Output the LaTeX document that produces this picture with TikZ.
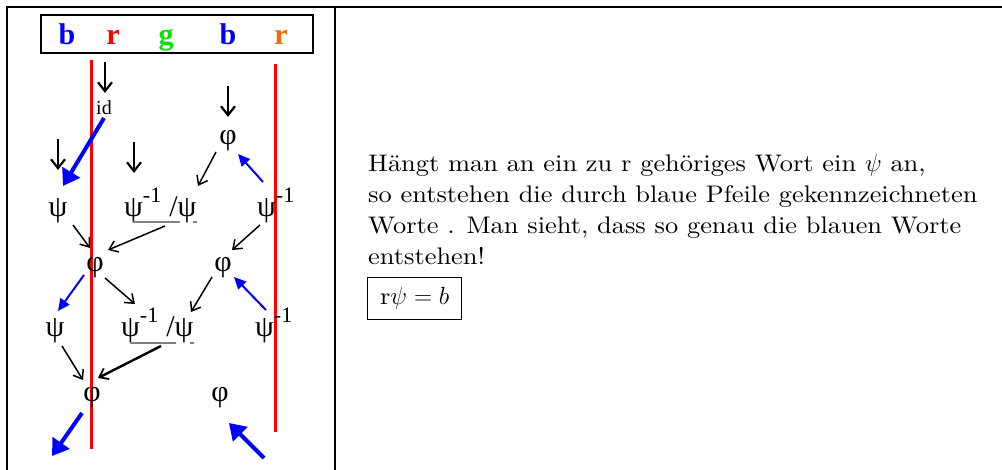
\documentclass[tikz,border=0pt]{standalone}
\usepackage{fontspec}
\setmainfont{lmroman10-regular}[Extension=.otf,BoldFont=lmroman10-bold,ItalicFont=lmroman10-italic,FakeStretch=1.1]
\newfontfamily\tms{Liberation Serif}
\usetikzlibrary{arrows.meta}
\definecolor{orng}{RGB}{255,102,0}
\definecolor{grn}{RGB}{0,230,0}
\newcommand{\supm}{\raisebox{14pt}{\fontsize{22}{22}\selectfont -1}}
\begin{document}
\begin{tikzpicture}[x=1pt,y=-1pt,
  frame/.style={line width=2pt,black},
  redline/.style={line width=3pt,red},
  hdr/.style={font=\tms\bfseries\fontsize{30}{30}\selectfont,inner sep=0,anchor=base},
  sym/.style={font=\tms\fontsize{30}{30}\selectfont,inner sep=0,anchor=base},
  dnarrow/.style={line width=2.6pt,-{Straight Barb[length=9pt,width=14pt,line width=2.2pt]}},
  blkarrow/.style={line width=1.5pt,-{Straight Barb[length=8pt,width=12pt,line width=1.5pt]}},
  blkthick/.style={line width=2.4pt,-{Straight Barb[length=8pt,width=12pt,line width=1.8pt]}},
  bluethick/.style={blue,line width=4pt,-{Triangle[length=16pt,width=20pt]}},
  bluethin/.style={blue,line width=2pt,-{Triangle[length=12pt,width=11pt]}},
  ul/.style={gray,line width=1.2pt},
  txt/.style={font=\fontsize{24}{31}\selectfont,inner sep=0,anchor=base west,align=left}
]
\useasboundingbox (0,0) rectangle (1002,470);
% frame
\draw[frame] (7,471) -- (7,7) -- (1003,7);
\draw[frame] (335,7) -- (335,471);
% header
\draw[frame] (41,15) rectangle (313,53);
\node[hdr,blue] (h1) at (67,45) {b};
\node[hdr,red] (h2) at (113,45) {r};
\node[hdr,grn] (h3) at (166,45) {g};
\node[hdr,blue] (h4) at (228,45) {b};
\node[hdr,orng] (h5) at (281,45) {r};
% red lines
\draw[redline] (91,60) -- (91,449);
\draw[redline] (275,64) -- (275,432);
% top black arrows
\coordinate (a1s) at (105,62); \coordinate (a1e) at (105,93);
\draw[dnarrow] (a1s) -- (a1e);
\coordinate (a2s) at (228,86); \coordinate (a2e) at (228,117);
\draw[dnarrow] (a2s) -- (a2e);
\coordinate (a3s) at (58,139); \coordinate (a3e) at (58,170);
\draw[dnarrow] (a3s) -- (a3e);
\coordinate (a4s) at (134,142); \coordinate (a4e) at (134,173);
\draw[dnarrow] (a4s) -- (a4e);
% id and phi top
\node[font=\tms\fontsize{20}{20}\selectfont,inner sep=0,anchor=base] (id) at (104,115) {id};
\node[sym] (phiT) at (228,145) {φ};
% row 1 psi
\node[sym] (psiA) at (58,217) {ψ};
\node[sym,anchor=base west] (psiB) at (124,217) {ψ\supm\hspace{8pt}/ψ};
\node[sym,anchor=base west] (psiC) at (257,217) {ψ\supm};
\draw[ul] (133,222) -- (180,222);
\draw[ul] (193,222) -- (197,222);
% row phi
\node[sym] (phiA) at (95,272) {φ};
\node[sym] (phiB) at (223,272) {φ};
% row 2 psi
\node[sym] (psiD) at (55,337) {ψ};
\node[sym,anchor=base west] (psiE) at (121,337) {ψ\supm\hspace{8pt}/ψ};
\node[sym,anchor=base west] (psiF) at (255,337) {ψ\supm};
\draw[ul] (130,343) -- (176,343);
\draw[ul] (190,343) -- (194,343);
% bottom phi
\node[sym] (phiC) at (92,402) {φ};
\node[sym] (phiD) at (220,402) {φ};
% connectors
\coordinate (b1s) at (104,118); \coordinate (b1e) at (63,186);
\draw[bluethick] (b1s) -- (b1e);
\coordinate (b2s) at (263,182); \coordinate (b2e) at (238,154);
\draw[bluethin] (b2s) -- (b2e);
\coordinate (k1s) at (216,152); \coordinate (k1e) at (198,186);
\draw[blkarrow] (k1s) -- (k1e);
\coordinate (k2s) at (73,225); \coordinate (k2e) at (90,248);
\draw[blkarrow] (k2s) -- (k2e);
\coordinate (k3s) at (165,226); \coordinate (k3e) at (108,250);
\draw[blkarrow] (k3s) -- (k3e);
\coordinate (k4s) at (260,225); \coordinate (k4e) at (232,250);
\draw[blkarrow] (k4s) -- (k4e);
\coordinate (b3s) at (84,275); \coordinate (b3e) at (58,311);
\draw[bluethin] (b3s) -- (b3e);
\coordinate (k5s) at (105,278); \coordinate (k5e) at (135,304);
\draw[blkarrow] (k5s) -- (k5e);
\coordinate (k6s) at (212,277); \coordinate (k6e) at (191,312);
\draw[blkarrow] (k6s) -- (k6e);
\coordinate (b4s) at (266,310); \coordinate (b4e) at (234,277);
\draw[bluethin] (b4s) -- (b4e);
\coordinate (k7s) at (62,346); \coordinate (k7e) at (83,380);
\draw[blkarrow] (k7s) -- (k7e);
\coordinate (k8s) at (161,346); \coordinate (k8e) at (98,378);
\draw[blkthick] (k8s) -- (k8e);
\coordinate (b5s) at (82,413); \coordinate (b5e) at (52,456);
\draw[bluethick] (b5s) -- (b5e);
\coordinate (b6s) at (264,458); \coordinate (b6e) at (229,423);
\draw[bluethick] (b6s) -- (b6e);
% right text
\node[txt] (para) at (368,265) {Hängt man an ein zu r gehöriges Wort ein $\psi$ an,\\
so entstehen die durch blaue Pfeile gekennzeichneten\\
Worte . Man sieht, dass so genau die blauen Worte\\
entstehen!};
\node[draw,line width=1.3pt,minimum width=94pt,minimum height=42pt,inner sep=0,anchor=north west,font=\fontsize{24}{24}\selectfont] (res) at (367,277) {r$\psi = b$};
\end{tikzpicture}
\end{document}
